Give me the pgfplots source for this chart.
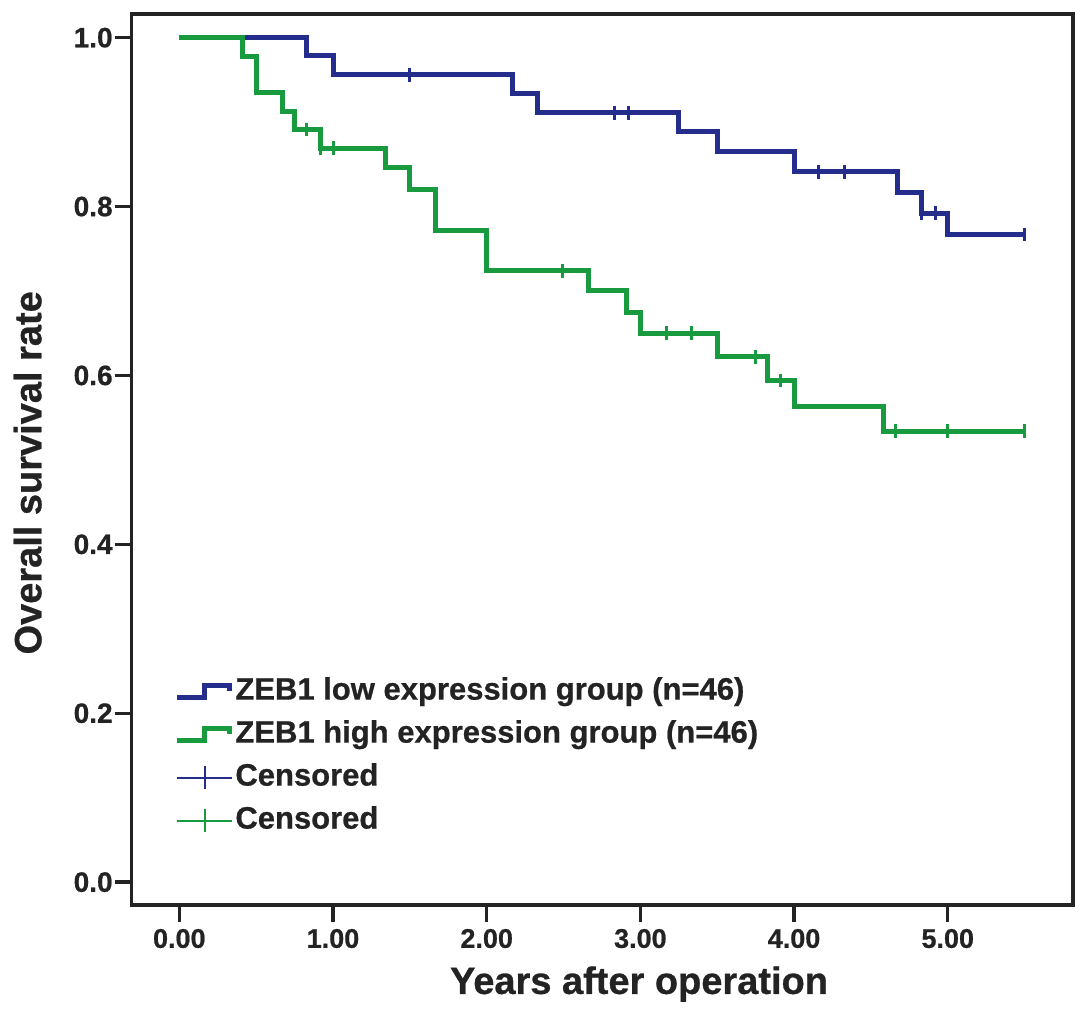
\documentclass[border=0pt]{standalone}
\usepackage{pgfplots}
\pgfplotsset{compat=1.18}
\usepackage{fontspec}
\setmainfont{Liberation Sans}[BoldFeatures={FakeBold=0.7}]
\usetikzlibrary{calc}
\definecolor{kmblue}{RGB}{36,44,140}
\definecolor{kmgreen}{RGB}{24,155,62}
\definecolor{axgray}{RGB}{35,35,35}
\begin{document}
\begin{tikzpicture}
\begin{axis}[
  scale only axis, width=470.7pt, height=445.5pt,
  xmin=-0.31, xmax=5.815, ymin=-0.027, ymax=1.028,
  xtick={0,1,2,3,4,5}, ytick={0,0.2,0.4,0.6,0.8,1.0},
  xtick pos=bottom, ytick pos=left,
  tick align=outside, major tick length=8.5pt,
  axis line style={line width=1.7pt, axgray},
  every tick/.style={line width=1.7pt, axgray},
  /pgf/number format/assume math mode=true,
  xticklabel style={/pgf/number format/fixed, /pgf/number format/fixed zerofill, /pgf/number format/precision=2,
    font=\fontsize{13.5}{14}\selectfont\bfseries, text=axgray},
  yticklabel style={/pgf/number format/fixed, /pgf/number format/fixed zerofill, /pgf/number format/precision=1,
    font=\fontsize{14}{14}\selectfont\bfseries, text=axgray, xshift=2.5pt},
  xlabel={Years after operation},
  ylabel={Overall survival rate},
  xlabel style={at={(axis description cs:0.539,0)}, anchor=base, yshift=-44.5pt,
    font=\fontsize{19}{20}\selectfont\bfseries, text=axgray},
  ylabel style={at={(axis description cs:0,0.485)}, anchor=center, yshift=52pt,
    font=\fontsize{19}{20}\selectfont\bfseries, text=axgray},
  legend style={at={(axis cs:-0.03,0.245)}, anchor=north west, draw=none, fill=none,
    font=\fontsize{15.5}{15.5}\selectfont\bfseries, text=axgray,
    row sep=5.5pt, inner sep=0pt,
    nodes={inner sep=1pt, text height=11pt, text depth=3pt}},
  legend cell align=left,
]
\addplot[const plot, line width=2.5pt, kmblue,
  legend image code/.code={\draw[kmblue, line width=2.3pt] (0pt,-3pt) -- (13.5pt,-3pt) -- (13.5pt,3pt) -- (26pt,3pt) -- (26pt,0.5pt);}]
  coordinates {(0,1) (0.83,0.979) (1.0,0.956) (2.17,0.934) (2.33,0.911) (3.25,0.889) (3.5,0.865) (4.0,0.841) (4.67,0.817) (4.83,0.792) (5.0,0.767) (5.5,0.767)};
\addlegendentry{ZEB1 low expression group (n=46)}
\addplot[const plot, line width=2.5pt, kmgreen,
  legend image code/.code={\draw[kmgreen, line width=2.3pt] (0pt,-3pt) -- (13.5pt,-3pt) -- (13.5pt,3pt) -- (26pt,3pt) -- (26pt,0.5pt);}]
  coordinates {(0,1) (0.41,0.978) (0.5,0.935) (0.67,0.913) (0.75,0.891) (0.92,0.869) (1.34,0.846) (1.5,0.82) (1.67,0.772) (2.0,0.724) (2.66,0.70) (2.91,0.674) (3.0,0.65) (3.5,0.622) (3.83,0.594) (4.0,0.563) (4.58,0.534) (5.5,0.534)};
\addlegendentry{ZEB1 high expression group (n=46)}
\addplot[only marks, mark=|, mark size=3.4pt, kmblue, mark options={line width=1.5pt},
  legend image code/.code={\draw[kmblue, line width=1pt] (0pt,0pt) -- (27.5pt,0pt); \draw[kmblue, line width=1pt] (14pt,-5.7pt) -- (14pt,5.7pt);}]
  coordinates {(1.5,0.956) (2.83,0.911) (2.92,0.911) (4.16,0.841) (4.33,0.841) (4.83,0.792) (4.92,0.792) (5.5,0.767)};
\addlegendentry{Censored}
\addplot[only marks, mark=|, mark size=3.4pt, kmgreen, mark options={line width=1.5pt},
  legend image code/.code={\draw[kmgreen, line width=1pt] (0pt,0pt) -- (27.5pt,0pt); \draw[kmgreen, line width=1pt] (14pt,-5.7pt) -- (14pt,5.7pt);}]
  coordinates {(0.83,0.891) (0.92,0.869) (1.0,0.869) (2.49,0.724) (3.17,0.65) (3.33,0.65) (3.75,0.622) (3.91,0.594) (4.66,0.534) (5.0,0.534) (5.5,0.534)};
\addlegendentry{Censored}
\end{axis}
\useasboundingbox ($(current axis.south west)+(-65.85pt,-54pt)$) rectangle ($(current axis.north east)+(7pt,7pt)$);
\end{tikzpicture}
\end{document}
